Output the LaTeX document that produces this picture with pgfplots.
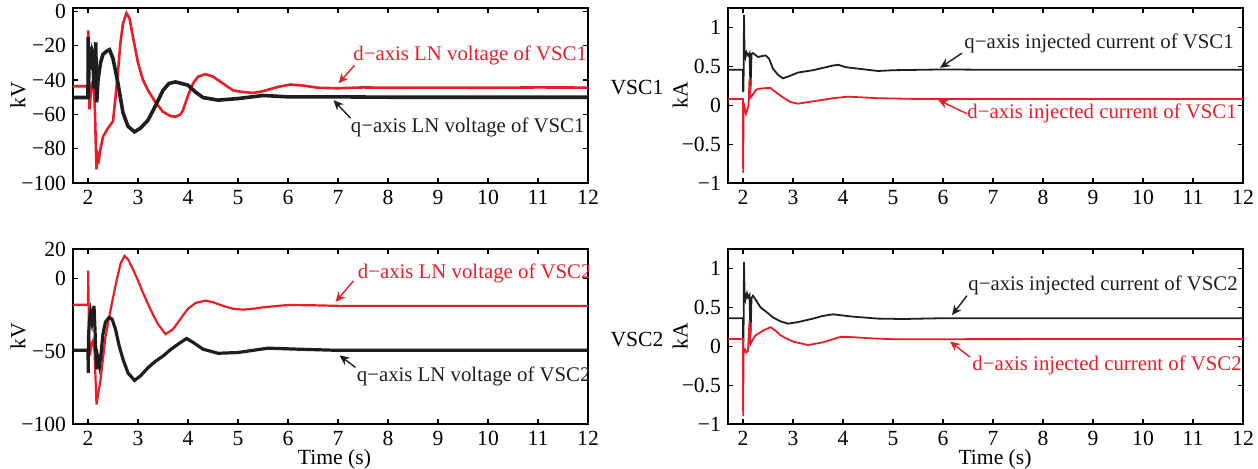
\documentclass[border=0pt]{standalone}
\usepackage{fontspec}
\setmainfont{Liberation Serif}
\usepackage{pgfplots}
\pgfplotsset{compat=1.18}
\usetikzlibrary{arrows.meta}
\definecolor{myred}{RGB}{232,30,38}
\definecolor{myblack}{RGB}{30,30,30}
\pgfplotsset{
  base/.style={
    scale only axis, width=257.5pt, height=87.5pt,
    anchor=south west,
    xmin=1.7, xmax=12,
    xtick={2,3,...,12},
    tick align=inside, major tick length=2.5pt,
    tick style={black, line width=0.6pt},
    axis line style={line width=0.8pt},
    /pgf/number format/assume math mode=true,
    ticklabel style={font=\fontsize{10.8}{12}\selectfont},
    label style={font=\fontsize{10.8}{12}\selectfont},
    clip=true,
  },
  volt/.style={base},
  curr/.style={base, ymin=-1, ymax=1.25, ytick={-1,-0.5,0,0.5,1},
    yticklabels={−1,−0.5,0,0.5,1},
    ylabel={kA}, ylabel style={at={(axis description cs:0,0.5)}, anchor=center, yshift=24pt}},
}
\pgfplotstableread{
t v
1.7 -43.6
2.0 -43.6
2.005 -11
2.015 -45
2.03 -57
2.05 -50
2.08 -42
2.12 -43
2.14 -60
2.17 -92
2.2 -84
2.22 -86
2.25 -80
2.3 -73
2.4 -68
2.5 -64
2.55 -50
2.6 -35
2.65 -18
2.7 -7
2.77 -1
2.83 -4
2.9 -15
3.0 -30
3.1 -40
3.2 -46
3.35 -53
3.5 -58.5
3.65 -61
3.75 -61.4
3.85 -60
3.9 -57.6
4.0 -49
4.1 -42
4.2 -38
4.35 -36.6
4.5 -38
4.7 -42
4.9 -46
5.1 -47
5.3 -47.5
5.5 -46.5
5.8 -44
6.05 -42.6
6.3 -43.2
6.6 -44.5
7.0 -44.8
7.5 -44.3
8 -44.5
9 -44.4
10 -44.5
11 -44.3
12 -44.4
}\dvone
\pgfplotstableread{
t v
1.7 -50.2
2.0 -50.2
2.005 -15
2.01 -45
2.02 -30
2.04 -25
2.06 -28
2.08 -24
2.1 -27
2.12 -45
2.14 -30
2.155 -18
2.165 -40
2.175 -53
2.2 -40
2.25 -30
2.3 -25
2.38 -23
2.43 -22.3
2.5 -27.5
2.6 -42
2.7 -59
2.8 -67
2.93 -70.2
3.05 -68
3.2 -63.4
3.35 -55
3.5 -46
3.62 -42
3.75 -41.1
3.87 -42
4.0 -43
4.15 -47
4.3 -50.2
4.6 -51.7
5.0 -50.8
5.5 -49
6.0 -49.8
7 -49.8
8 -50
9 -50
10 -50
11 -50
12 -50
}\qvone
\pgfplotstableread{
t v
1.7 0.455
2.0 0.455
2.003 0.17
2.01 0.2
2.02 1.16
2.03 0.7
2.05 0.62
2.07 0.68
2.1 0.64
2.13 0.67
2.15 0.2
2.17 0.66
2.2 0.67
2.3 0.62
2.37 0.63
2.45 0.64
2.52 0.6
2.6 0.47
2.7 0.39
2.8 0.345
2.95 0.38
3.1 0.42
3.4 0.45
3.6 0.48
3.8 0.51
3.9 0.52
4.05 0.49
4.3 0.47
4.7 0.44
5.0 0.45
5.5 0.455
6 0.46
7 0.455
12 0.455
}\qione
\pgfplotstableread{
t v
1.7 0.08
2.0 0.08
2.003 -0.87
2.01 -0.1
2.03 -0.02
2.06 -0.11
2.09 -0.05
2.11 0.0
2.13 0.34
2.15 0.10
2.18 0.12
2.25 0.19
2.3 0.21
2.45 0.22
2.55 0.22
2.65 0.17
2.8 0.1
2.95 0.04
3.1 0.02
3.3 0.04
3.5 0.06
3.8 0.09
4.1 0.11
4.4 0.1
4.7 0.09
5.5 0.08
12 0.08
}\dione
\pgfplotstableread{
t v
1.7 -18.2
2.0 -18.2
2.005 5.2
2.015 -30
2.04 -53
2.07 -45
2.1 -43
2.13 -50
2.17 -86.7
2.2 -80
2.25 -70
2.3 -55
2.35 -40
2.45 -22
2.55 -5
2.65 10
2.73 15.2
2.8 13
2.9 6
3.0 -1.6
3.1 -10
3.2 -17.7
3.3 -25
3.4 -31.5
3.55 -38.4
3.7 -35
3.8 -30.3
3.9 -25.5
4.0 -21
4.15 -17
4.35 -15.4
4.5 -16.5
4.7 -19
4.9 -21
5.1 -21.6
5.3 -21
5.5 -20
6 -18.4
6.5 -18.6
7 -19
8 -19
12 -19
}\dvtwo
\pgfplotstableread{
t v
1.7 -49.5
2.0 -49.5
2.005 -65
2.01 -40
2.03 -28
2.05 -23.4
2.08 -30
2.1 -25
2.12 -19
2.14 -35
2.17 -62.5
2.2 -55
2.23 -60
2.26 -52
2.3 -38
2.35 -30
2.42 -27
2.48 -28
2.55 -35
2.62 -46
2.7 -55.6
2.8 -65
2.93 -70.1
3.05 -67
3.2 -61.4
3.35 -57
3.5 -53.4
3.65 -49
3.8 -45.3
3.97 -41.4
4.1 -44
4.3 -48.7
4.6 -51.5
5.0 -51
5.3 -49.5
5.6 -48
6.2 -48.7
7 -49.5
12 -49.5
}\qvtwo
\pgfplotstableread{
t v
1.7 0.36
2.0 0.36
2.003 0.0
2.01 0.1
2.02 1.08
2.03 0.7
2.05 0.6
2.08 0.68
2.1 0.63
2.13 0.66
2.15 0.14
2.17 0.62
2.2 0.65
2.25 0.6
2.35 0.5
2.45 0.45
2.6 0.37
2.75 0.32
2.9 0.29
3.1 0.31
3.4 0.355
3.6 0.39
3.8 0.41
4.0 0.395
4.2 0.38
4.7 0.355
5.2 0.35
6 0.36
12 0.36
}\qitwo
\pgfplotstableread{
t v
1.7 0.094
2.0 0.094
2.003 -0.9
2.01 -0.1
2.04 -0.04
2.07 -0.08
2.1 -0.06
2.13 0.33
2.15 0.03
2.2 0.09
2.25 0.14
2.4 0.2
2.55 0.245
2.65 0.2
2.75 0.14
2.9 0.09
3.0 0.06
3.3 0.015
3.6 0.05
3.8 0.09
3.95 0.12
4.1 0.12
4.6 0.1
5 0.09
12 0.094
}\ditwo
\begin{document}
\begin{tikzpicture}
\path[use as bounding box] (0pt,0pt) rectangle (629pt,234.5pt);
% top-left
\begin{axis}[volt, at={(36.5pt,143pt)},
  ymin=-100, ymax=2, ytick={-100,-80,-60,-40,-20,0},
  yticklabels={−100,−80,−60,−40,−20,0},
  ylabel={kV}, ylabel style={at={(axis description cs:0,0.5)}, anchor=center, yshift=27.5pt}]
\addplot[myred, line width=1.3pt] table[x=t,y=v]{\dvone};
\addplot[myblack, line width=1.8pt] table[x=t,y=v]{\qvone};
\node[anchor=west, text=myred, inner sep=0pt, font=\fontsize{10.4}{12}\selectfont] at (axis cs:7.3,-25.6) {d−axis LN voltage of VSC1};
\draw[myred, line width=0.7pt, -{Stealth[length=5pt,width=4.5pt]}] (axis cs:7.33,-31.4) -- (axis cs:7.01,-41.9);
\node[anchor=west, text=myblack, inner sep=0pt, font=\fontsize{10.4}{12}\selectfont] at (axis cs:7.25,-67.4) {q−axis LN voltage of VSC1};
\draw[myblack, line width=0.7pt, -{Stealth[length=5pt,width=4.5pt]}] (axis cs:7.25,-62.2) -- (axis cs:6.91,-51.7);
\end{axis}
% top-right
\begin{axis}[curr, at={(364pt,143pt)}]
\addplot[myblack, line width=0.9pt] table[x=t,y=v]{\qione};
\addplot[myred, line width=0.9pt] table[x=t,y=v]{\dione};
\node[anchor=west, text=myblack, inner sep=0pt, font=\fontsize{10.4}{12}\selectfont] at (axis cs:6.42,0.80) {q−axis injected current of VSC1};
\draw[myblack, line width=0.7pt, -{Stealth[length=5pt,width=4.5pt]}] (axis cs:6.38,0.67) -- (axis cs:5.94,0.48);
\node[anchor=west, text=myred, inner sep=0pt, font=\fontsize{10.4}{12}\selectfont] at (axis cs:6.48,-0.10) {d−axis injected current of VSC1};
\draw[myred, line width=0.7pt, -{Stealth[length=5pt,width=4.5pt]}] (axis cs:6.48,-0.11) -- (axis cs:5.9,0.07);
\end{axis}
% bottom-left
\begin{axis}[volt, at={(36.5pt,22.5pt)},
  ymin=-100, ymax=20, ytick={-100,-50,0,20},
  yticklabels={−100,−50,0,20},
  ylabel={kV}, ylabel style={at={(axis description cs:0,0.5)}, anchor=center, yshift=27.5pt},
  xlabel={Time (s)}, xlabel style={at={(axis description cs:0.5,0)}, anchor=center, yshift=-17.8pt, xshift=2pt}]
\addplot[myred, line width=1.1pt] table[x=t,y=v]{\dvtwo};
\addplot[myblack, line width=1.6pt] table[x=t,y=v]{\qvtwo};
\node[anchor=west, text=myred, inner sep=0pt, font=\fontsize{10.4}{12}\selectfont] at (axis cs:7.39,3.0) {d−axis LN voltage of VSC2};
\draw[myred, line width=0.7pt, -{Stealth[length=5pt,width=4.5pt]}] (axis cs:7.31,-1.9) -- (axis cs:6.95,-16.3);
\node[anchor=west, text=myblack, inner sep=0pt, font=\fontsize{10.4}{12}\selectfont] at (axis cs:7.37,-67.4) {q−axis LN voltage of VSC2};
\draw[myblack, line width=0.7pt, -{Stealth[length=5pt,width=4.5pt]}] (axis cs:7.35,-61.2) -- (axis cs:7.03,-52.9);
\end{axis}
% bottom-right
\begin{axis}[curr, at={(364pt,22.5pt)},
  xlabel={Time (s)}, xlabel style={at={(axis description cs:0.5,0)}, anchor=center, yshift=-17.8pt, xshift=4.75pt}]
\addplot[myblack, line width=0.9pt] table[x=t,y=v]{\qitwo};
\addplot[myred, line width=0.9pt] table[x=t,y=v]{\ditwo};
\node[anchor=west, text=myblack, inner sep=0pt, font=\fontsize{10.4}{12}\selectfont] at (axis cs:6.5,0.78) {q−axis injected current of VSC2};
\draw[myblack, line width=0.7pt, -{Stealth[length=5pt,width=4.5pt]}] (axis cs:6.48,0.65) -- (axis cs:6.18,0.40);
\node[anchor=west, text=myred, inner sep=0pt, font=\fontsize{10.4}{12}\selectfont] at (axis cs:6.58,-0.25) {d−axis injected current of VSC2};
\draw[myred, line width=0.7pt, -{Stealth[length=5pt,width=4.5pt]}] (axis cs:6.54,-0.14) -- (axis cs:6.14,0.06);
\end{axis}
\node[font=\fontsize{10.8}{12}\selectfont] at (318.5pt,190.5pt) {VSC1};
\node[font=\fontsize{10.8}{12}\selectfont] at (318.5pt,64.5pt) {VSC2};
\end{tikzpicture}
\end{document}
